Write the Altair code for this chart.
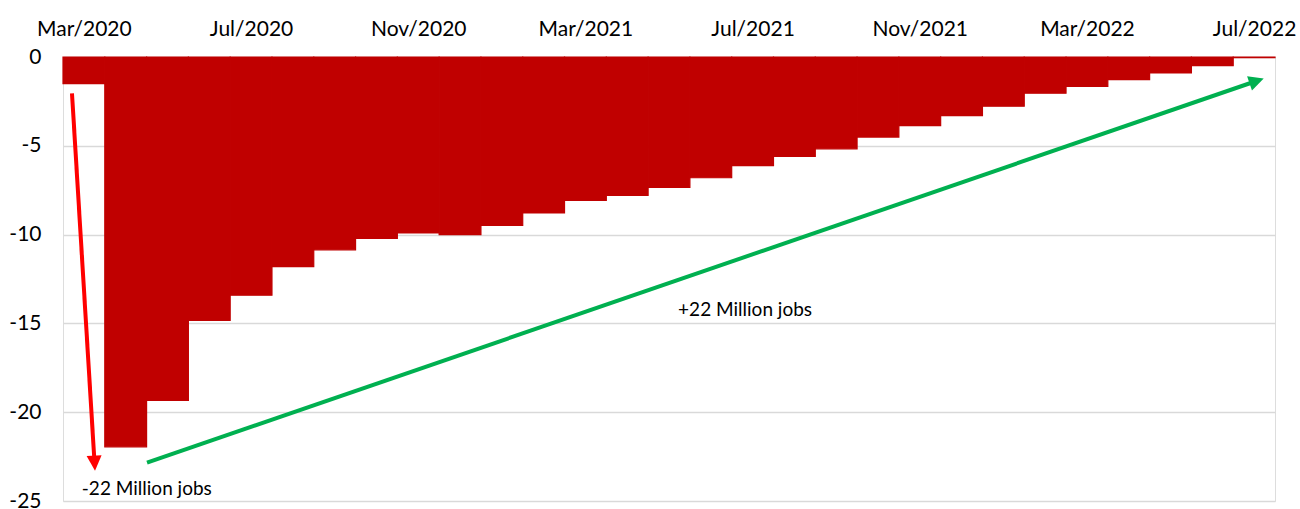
import math
import altair as alt
import pandas as pd

months = ["Mar/2020", "Apr/2020", "May/2020", "Jun/2020", "Jul/2020", "Aug/2020",
          "Sep/2020", "Oct/2020", "Nov/2020", "Dec/2020", "Jan/2021", "Feb/2021",
          "Mar/2021", "Apr/2021", "May/2021", "Jun/2021", "Jul/2021", "Aug/2021",
          "Sep/2021", "Oct/2021", "Nov/2021", "Dec/2021", "Jan/2022", "Feb/2022",
          "Mar/2022", "Apr/2022", "May/2022", "Jun/2022", "Jul/2022"]
values = [-1.5, -21.95, -19.34, -14.83, -13.41, -11.8, -10.86, -10.22, -9.91, -10.0,
          -9.48, -8.78, -8.07, -7.79, -7.34, -6.80, -6.12, -5.6, -5.17, -4.51,
          -3.86, -3.3, -2.77, -2.04, -1.65, -1.27, -0.9, -0.49, -0.03]
tick_idx = [0, 4, 8, 12, 16, 20, 24, 28]
y_ticks = [0, -5, -10, -15, -20, -25]

# annotation arrows (data units: month index, millions)
red_x = [-0.285, 0.266]
red_y = [-2.05, -23.29]
green_x = [1.51, 28.23]
green_y = [-22.84, -1.21]
labels_txt = ["-22 Million jobs", "+22 Million jobs"]
labels_x = [-0.05, 15.82]
labels_y = [-24.35, -14.24]

W, H = 1212, 444
PX_X = W / 29.0
PX_Y = H / 25.0
FONT = "Lato"

df = pd.DataFrame({"i": list(range(len(months))), "v": values})
df["x0"] = df["i"] - 0.5
df["x1"] = df["i"] + 0.5

label_arr = "[" + ",".join("'%s'" % m for m in months) + "]"

xscale = alt.Scale(domain=[-0.5, 28.5], nice=False, zero=False)
yscale = alt.Scale(domain=[-25, 0], nice=False)

bars = alt.Chart(df).mark_rect(color="#c00000", stroke="#c00000", strokeWidth=1.2).encode(
    x=alt.X("x0:Q", scale=xscale,
            axis=alt.Axis(orient="top", values=tick_idx, labelExpr=label_arr + "[datum.value]",
                          grid=False, ticks=False, domain=False, title=None,
                          labelFontSize=21, labelFont=FONT, labelColor="#000000",
                          labelPadding=18)),
    x2="x1:Q",
    y=alt.Y("v:Q", scale=yscale,
            axis=alt.Axis(values=y_ticks, grid=True, gridColor="#d9d9d9", gridWidth=1.6,
                          labelExpr="datum.value + ''",
                          ticks=False, domain=False, title=None, labelFontSize=21,
                          labelFont=FONT, labelColor="#000000", labelPadding=22)),
    y2=alt.datum(0),
)


def arrow(xs, ys, color, width):
    dxp = (xs[1] - xs[0]) * PX_X
    dyp = (ys[1] - ys[0]) * PX_Y
    ang = math.degrees(math.atan2(dxp, dyp)) % 360
    L = math.hypot(dxp, dyp)
    f = (L - 10) / L
    ld = pd.DataFrame({"x": [xs[0], xs[0] + (xs[1] - xs[0]) * f],
                       "y": [ys[0], ys[0] + (ys[1] - ys[0]) * f]})
    line = alt.Chart(ld).mark_line(color=color, strokeWidth=width).encode(
        x=alt.X("x:Q", scale=xscale), y=alt.Y("y:Q", scale=yscale))
    hd = pd.DataFrame({"x": [xs[1]], "y": [ys[1]]})
    head = alt.Chart(hd).mark_point(shape="M0,0L-0.5,1L0.5,1Z", filled=True, size=900,
                                    color=color, opacity=1, angle=ang, strokeWidth=0).encode(
        x=alt.X("x:Q", scale=xscale), y=alt.Y("y:Q", scale=yscale))
    return line + head


red = arrow(red_x, red_y, "#ff0000", 4)
green = arrow(green_x, green_y, "#00b050", 4)

tdf = pd.DataFrame({"t": labels_txt, "x": labels_x, "y": labels_y})
t1 = alt.Chart(tdf.iloc[[0]]).mark_text(align="left", baseline="middle", fontSize=19,
                                        font=FONT, color="#000000").encode(
    x=alt.X("x:Q", scale=xscale), y=alt.Y("y:Q", scale=yscale), text="t:N")
t2 = alt.Chart(tdf.iloc[[1]]).mark_text(align="center", baseline="middle", fontSize=19,
                                        font=FONT, color="#000000").encode(
    x=alt.X("x:Q", scale=xscale), y=alt.Y("y:Q", scale=yscale), text="t:N")

chart = alt.layer(bars, red, green, t1, t2).properties(
    width=W, height=H,
    autosize=alt.AutoSizeParams(type="none"),
    padding={"left": 63, "top": 57, "right": 25, "bottom": 8},
).configure_view(stroke=None).configure(background="white")

chart.save("out.html", embed_options={"renderer": "svg", "actions": False})
